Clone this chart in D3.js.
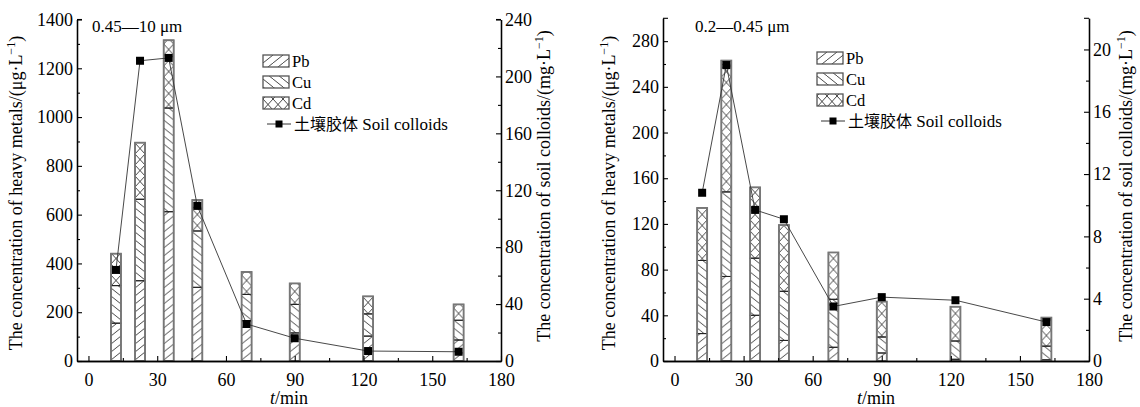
<!DOCTYPE html>
<html>
<head>
<meta charset="utf-8">
<script src="https://cdn.jsdelivr.net/npm/d3@7"></script>
<style>
  body { margin: 0; background: #fff; }
  svg text { font-family: "Liberation Serif", "Times New Roman", Times, serif; fill: #000; }
</style>
</head>
<body>
<script>
// sampling times (min)
var times = [12, 22.5, 35, 47.5, 69, 90, 122, 161.5];
var xTicks = [0, 30, 60, 90, 120, 150, 180];

// 0.45-10 um fraction, ug/L
var pbA = [155, 329, 612, 302, 165, 115, 102, 86];
var cuA = [154, 334, 425, 231, 108, 117, 91, 81];
var cdA = [131, 232, 278, 127, 92, 86, 72, 65];
// soil colloids mg/L
var colloidA = [64, 211, 213, 109, 26, 16, 7, 6.5];

// 0.2-0.45 um fraction
var pbB = [24, 74, 40, 18, 12, 7, 1.5, 1];
var cuB = [64, 74, 50, 43, 42, 14, 16, 12];
var cdB = [46, 115, 62, 58, 41, 31, 30, 25];
var colloidB = [10.8, 19.0, 9.7, 9.1, 3.5, 4.1, 3.9, 2.5];

var W = 1140, H = 407;
var serif = '"Liberation Serif", "Times New Roman", Times, serif';

var svg = d3.select("body").append("svg")
  .attr("width", W).attr("height", H)
  .attr("font-family", serif);

var defs = svg.append("defs");
var hatchColor = "#333";

// Pb: forward slash
var p1 = defs.append("pattern").attr("id", "hPb").attr("patternUnits", "userSpaceOnUse")
  .attr("width", 10).attr("height", 8);
p1.append("path").attr("d", "M0,8 L10,0 M-10,8 L0,0 M10,8 L20,0")
  .attr("stroke", hatchColor).attr("stroke-width", 0.9).attr("fill", "none");
// Cu: back slash
var p2 = defs.append("pattern").attr("id", "hCu").attr("patternUnits", "userSpaceOnUse")
  .attr("width", 10).attr("height", 8);
p2.append("path").attr("d", "M0,0 L10,8 M-10,0 L0,8 M10,0 L20,8")
  .attr("stroke", hatchColor).attr("stroke-width", 0.9).attr("fill", "none");
// Cd: cross
var p3 = defs.append("pattern").attr("id", "hCd").attr("patternUnits", "userSpaceOnUse")
  .attr("width", 10).attr("height", 11);
p3.append("path").attr("d", "M0,0 L10,11 M10,0 L0,11")
  .attr("stroke", hatchColor).attr("stroke-width", 0.9).attr("fill", "none");

function drawPanel(opt) {
  var x = d3.scaleLinear().domain([-5, 180]).range([opt.left, opt.right]);
  var y = d3.scaleLinear().domain([0, opt.yMax]).range([opt.bottom, opt.top]);
  var y2 = d3.scaleLinear().domain([0, opt.y2Max]).range([opt.bottom, opt.top]);
  var g = svg.append("g");

  // bars
  var bw = 10;
  var stacks = times.map(function(t, i) {
    var a = opt.pb[i], b = a + opt.cu[i], c = b + opt.cd[i];
    return { t: t, segs: [[0, a, "hPb"], [a, b, "hCu"], [b, c, "hCd"]] };
  });
  var bars = g.selectAll(".bar").data(stacks).enter().append("g")
    .attr("class", "bar")
    .attr("transform", function(d) { return "translate(" + (x(d.t) - bw / 2) + ",0)"; });
  bars.selectAll("rect.h").data(function(d) { return d.segs; }).enter().append("rect")
    .attr("class", "h")
    .attr("x", 0).attr("width", bw)
    .attr("y", function(s) { return y(s[1]); })
    .attr("height", function(s) { return y(s[0]) - y(s[1]); })
    .attr("fill", function(s) { return "url(#" + s[2] + ")"; })
    .attr("stroke", "#222").attr("stroke-width", 1);
  bars.append("rect")
    .attr("x", 0).attr("width", bw)
    .attr("y", function(d) { return y(d.segs[2][1]); })
    .attr("height", function(d) { return y(0) - y(d.segs[2][1]); })
    .attr("fill", "none").attr("stroke", "#777").attr("stroke-width", 1.8);

  // colloid line
  var line = d3.line().x(function(d) { return x(d[0]); }).y(function(d) { return y2(d[1]); });
  var pts = times.map(function(t, i) { return [t, opt.colloid[i]]; });
  g.append("path").datum(pts).attr("d", line)
    .attr("fill", "none").attr("stroke", "#333").attr("stroke-width", 0.9);
  g.selectAll(".mk").data(pts).enter().append("rect")
    .attr("x", function(d) { return x(d[0]) - 4; })
    .attr("y", function(d) { return y2(d[1]) - 4; })
    .attr("width", 8).attr("height", 8).attr("fill", "#000");

  // axes, ticks inward
  var fmt = d3.format("d");
  g.append("g").attr("transform", "translate(0," + opt.bottom + ")")
    .call(d3.axisBottom(x).tickValues(xTicks).tickFormat(fmt).tickSize(-5).tickPadding(12).tickSizeOuter(0));
  g.append("g").attr("transform", "translate(0," + opt.bottom + ")")
    .call(d3.axisBottom(x).tickValues(d3.range(15, 180, 30)).tickSize(-3).tickFormat("").tickSizeOuter(0));
  g.append("g").attr("transform", "translate(" + opt.left + ",0)")
    .call(d3.axisLeft(y).tickValues(opt.yTicks).tickFormat(fmt).tickSize(-5).tickPadding(4).tickSizeOuter(0));
  g.append("g").attr("transform", "translate(" + opt.left + ",0)")
    .call(d3.axisLeft(y).tickValues(opt.yMinor).tickSize(-3).tickFormat("").tickSizeOuter(0));
  g.append("g").attr("transform", "translate(" + opt.right + ",0)")
    .call(d3.axisRight(y2).tickValues(opt.y2Ticks).tickFormat(fmt).tickSize(-5).tickPadding(4).tickSizeOuter(0));
  g.append("g").attr("transform", "translate(" + opt.right + ",0)")
    .call(d3.axisRight(y2).tickValues(opt.y2Minor).tickSize(-3).tickFormat("").tickSizeOuter(0));
  g.selectAll(".domain").attr("stroke", "#000").attr("stroke-width", 1.3);
  g.selectAll(".tick line").attr("stroke", "#000").attr("stroke-width", 1.1);
  g.selectAll("g").filter(function() { return this.hasAttribute("font-family"); })
    .attr("font-family", serif).attr("font-size", 18);
  // top caps of the vertical axes
  g.append("line").attr("x1", opt.left).attr("x2", opt.left + 5)
    .attr("y1", opt.top).attr("y2", opt.top).attr("stroke", "#000").attr("stroke-width", 1.1);
  g.append("line").attr("x1", opt.right).attr("x2", opt.right - 5)
    .attr("y1", opt.top).attr("y2", opt.top).attr("stroke", "#000").attr("stroke-width", 1.1);

  // titles
  var t1 = g.append("text").attr("font-size", 18).attr("text-anchor", "middle")
    .attr("transform", "translate(" + opt.yTitleX + ",193) rotate(-90)");
  t1.append("tspan").text("The concentration of heavy metals/(\u03bcg\u00b7L");
  t1.append("tspan").attr("font-size", 12).attr("dy", -7).text("\u22121");
  t1.append("tspan").attr("dy", 7).text(")");
  var t2 = g.append("text").attr("font-size", 18).attr("text-anchor", "middle")
    .attr("transform", "translate(" + opt.y2TitleX + ",186) rotate(-90)");
  t2.append("tspan").text("The concentration of soil colloids/(mg\u00b7L");
  t2.append("tspan").attr("font-size", 12).attr("dy", -7).text("\u22121");
  t2.append("tspan").attr("dy", 7).text(")");

  var xl = g.append("text").attr("font-size", 18).attr("text-anchor", "middle")
    .attr("x", (opt.left + opt.right) / 2).attr("y", 404);
  xl.append("tspan").attr("font-style", "italic").text("t");
  xl.append("tspan").text("/min");

  g.append("text").attr("font-size", 17).attr("x", opt.labelX).attr("y", 32).text(opt.label);

  // legend
  var lg = g.append("g").attr("transform", "translate(" + opt.legX + "," + opt.legY + ")");
  var items = [["hPb", "Pb"], ["hCu", "Cu"], ["hCd", "Cd"]];
  items.forEach(function(it, i) {
    var yy = i * 21;
    lg.append("rect").attr("x", 0).attr("y", yy).attr("width", 26).attr("height", 12)
      .attr("fill", "url(#" + it[0] + ")").attr("stroke", "#555").attr("stroke-width", 1.3);
    lg.append("text").attr("x", 29).attr("y", yy + 12).attr("font-size", 16.5).text(it[1]);
  });
  lg.append("line").attr("x1", 4).attr("x2", 28).attr("y1", 69).attr("y2", 69)
    .attr("stroke", "#333").attr("stroke-width", 1);
  lg.append("rect").attr("x", 12.5).attr("y", 65.5).attr("width", 7).attr("height", 7).attr("fill", "#000");
  var lt = lg.append("text").attr("x", 31).attr("y", 75).attr("font-size", 17);
  lt.append("tspan").attr("font-size", 16)
    .style("font-family", '"Noto Sans CJK SC", sans-serif').text("\u571f\u58e4\u80f6\u4f53");
  lt.append("tspan").text(" Soil colloids");
}

drawPanel({
  left: 77, right: 501, top: 19.5, bottom: 361,
  yMax: 1400, yTicks: d3.range(0, 1401, 200), yMinor: d3.range(100, 1400, 200),
  y2Max: 240, y2Ticks: d3.range(0, 241, 40), y2Minor: d3.range(20, 240, 40),
  pb: pbA, cu: cuA, cd: cdA, colloid: colloidA,
  yTitleX: 22, y2TitleX: 550, labelX: 92, label: "0.45\u201410 \u03bcm",
  legX: 263, legY: 55
});

drawPanel({
  left: 663, right: 1089, top: 18.3, bottom: 361,
  yMax: 300, yTicks: d3.range(0, 281, 40), yMinor: d3.range(20, 300, 40),
  y2Max: 22, y2Ticks: d3.range(0, 21, 4), y2Minor: d3.range(2, 22, 4),
  pb: pbB, cu: cuB, cd: cdB, colloid: colloidB,
  yTitleX: 615, y2TitleX: 1132, labelX: 695, label: "0.2\u20140.45 \u03bcm",
  legX: 817, legY: 52
});
</script>
</body>
</html>
